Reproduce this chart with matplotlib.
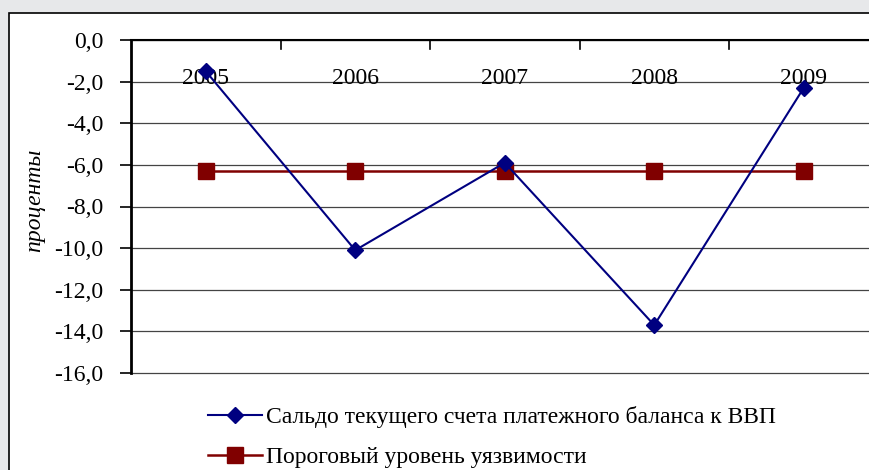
import matplotlib
matplotlib.use("Agg")
import matplotlib.pyplot as plt
from matplotlib.patches import Rectangle
from matplotlib.lines import Line2D

years = ["2005", "2006", "2007", "2008", "2009"]
balance = [-1.5, -10.1, -5.9, -13.7, -2.3]
threshold = [-6.3, -6.3, -6.3, -6.3, -6.3]
yticks = [0, -2, -4, -6, -8, -10, -12, -14, -16]
ytick_labels = ["0,0", "-2,0", "-4,0", "-6,0", "-8,0", "-10,0", "-12,0", "-14,0", "-16,0"]
label_balance = "Сальдо текущего счета платежного баланса к ВВП"
label_threshold = "Пороговый уровень уязвимости"
ylabel = "проценты"

W, H = 870, 470
plt.rcParams['font.family'] = ['Liberation Serif', 'DejaVu Serif']
FS = 17

fig = plt.figure(figsize=(W / 100, H / 100), dpi=100)
fig.patch.set_facecolor("#e7e8ea")

# white chart panel with black border
panel = Rectangle((9 / W, 1 - 13 / H - 470 / H), 880 / W, 470 / H,
                  transform=fig.transFigure, facecolor="white",
                  edgecolor="black", linewidth=1.2, zorder=-5)
fig.patches.append(panel)

left, right, top, bottom = 131, 131 + 5 * 149.5, 40, 373
ax = fig.add_axes([left / W, 1 - bottom / H, (right - left) / W, (bottom - top) / H])
ax.set_facecolor("none")
ax.set_zorder(2)

x = list(range(len(years)))
ax.set_xlim(-0.5, len(years) - 0.5)
ax.set_ylim(-16, 0)

# gridlines
for v in yticks:
    ax.axhline(v, color="#444444" if v != 0 else "black", lw=0.9, zorder=1,
               clip_on=False)

ax.plot(x, threshold, color="#800000", lw=1.8, marker="s", ms=11.5, zorder=3,
        label=label_threshold)
ax.plot(x, balance, color="#000080", lw=1.5, marker="D", ms=8.5, zorder=4,
        label=label_balance)

# category labels just below the top axis line
for xi, yr in zip(x, years):
    ax.text(xi, -1.85, yr, ha="center", va="center", fontsize=FS, zorder=2)

ax.set_yticks(yticks)
ax.set_yticklabels(ytick_labels, fontsize=FS)
ax.tick_params(axis="y", direction="out", length=8, width=1.2, pad=12)
ax.set_xticks([])
# category boundary tick marks at top axis
for b in [0.5, 1.5, 2.5, 3.5]:
    ax.plot([b, b], [0, -0.42], color="black", lw=1.2, zorder=2, clip_on=False)

for s in ["top", "right", "bottom"]:
    ax.spines[s].set_visible(False)
ax.spines["left"].set_linewidth(2)
ax.axhline(0, color="black", lw=1.5, zorder=2, clip_on=False)

fig.text(35 / W, 1 - 200 / H, ylabel, rotation=90, fontsize=FS, style="italic",
         ha="center", va="center")

handles = [
    Line2D([], [], color="#000080", lw=1.5, marker="D", ms=8.5),
    Line2D([], [], color="#800000", lw=1.8, marker="s", ms=11.5),
]
fig.legend(handles, [label_balance, label_threshold], loc="upper left",
           bbox_to_anchor=(208 / W, 1 - 406 / H), frameon=False, fontsize=FS,
           handlelength=2.3, handletextpad=0.15, labelspacing=0.8,
           borderpad=0, borderaxespad=0)

fig.savefig("out.png", dpi=100)
